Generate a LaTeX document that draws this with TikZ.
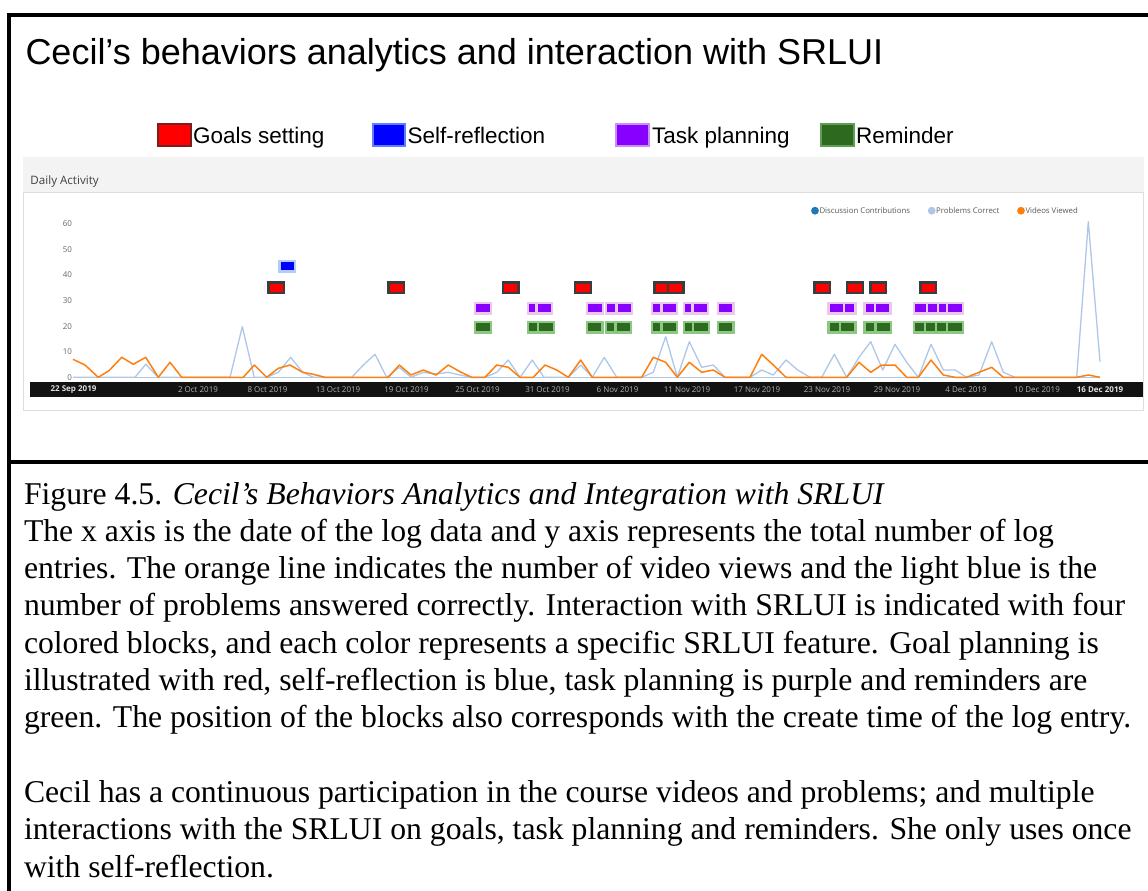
\documentclass[tikz,border=0pt]{standalone}
\usepackage{fontspec}
\setmainfont{Liberation Serif}
\newfontfamily\arial{Liberation Sans}
\newfontfamily\osans{Open Sans}
\definecolor{orangeL}{HTML}{FF7F0E}
\definecolor{lblueL}{HTML}{AEC7E8}
\definecolor{dblueL}{HTML}{1F77B4}
\definecolor{panelgray}{HTML}{F3F3F3}
\definecolor{bordergray}{HTML}{DDDDDD}
\definecolor{redF}{HTML}{FF0000}
\definecolor{redB}{HTML}{3C3C3C}
\definecolor{blueF}{HTML}{0000FF}
\definecolor{blueB}{HTML}{B4CDF5}
\definecolor{purF}{HTML}{8800FF}
\definecolor{purB}{HTML}{E8C8EC}
\definecolor{grnF}{HTML}{2D6A1F}
\definecolor{grnB}{HTML}{8CC883}
\definecolor{legRedB}{HTML}{7A1F1F}
\definecolor{legBlueB}{HTML}{5F7FFF}
\definecolor{legPurB}{HTML}{C890F0}
\definecolor{legGrnB}{HTML}{5F9F55}
\newcommand\srblk[4]{\fill[#3] (#1,#2) rectangle ++(18,13);\fill[#4] ({#1+2.4},{#2+2.4}) rectangle ++(13.2,8.2);}
\begin{document}
\begin{tikzpicture}[x=1pt,y=-1pt,every node/.style={inner sep=0pt,outer sep=0pt},
  datelab/.style={font=\osans\fontsize{8}{9}\selectfont,text=black!30},
  dateend/.style={font=\osans\bfseries\fontsize{8}{9}\selectfont,text=black!12},
  ylab/.style={font=\osans\fontsize{8}{9}\selectfont,text=black!60,anchor=east},
  leglab/.style={font=\osans\fontsize{7.8}{9}\selectfont,text=black!65,anchor=west},
  bigleg/.style={font=\arial\fontsize{22.5}{25}\selectfont,anchor=base west},
  capline/.style={font=\fontsize{31.7}{37.3}\selectfont,anchor=base west}]
\useasboundingbox (0,0) rectangle (1148,891);
\fill[white] (0,0) rectangle (1148,891);
% frame
\draw[line width=3.2,line join=miter] (9,895) -- (9,15) -- (1152,15);
\draw[line width=4] (9,462) -- (1152,462);
% title
\node[font=\arial\fontsize{36}{40}\selectfont,anchor=base west] (title) at (25.5,65) {Cecil’s behaviors analytics and interaction with SRLUI};
% legend
\filldraw[fill=redF,draw=legRedB,line width=2] (158,124) rectangle (191,146);
\node[bigleg] (lg1) at (193,143) {Goals setting};
\filldraw[fill=blueF,draw=legBlueB,line width=2] (373,124) rectangle (405,146);
\node[bigleg] (lg2) at (407.5,143) {Self-reflection};
\filldraw[fill=purF,draw=legPurB,line width=2] (616,124) rectangle (649,146);
\node[bigleg] (lg3) at (652,143) {Task planning};
\filldraw[fill=grnF,draw=legGrnB,line width=2] (821,124) rectangle (854,146);
\node[bigleg] (lg4) at (856,143) {Reminder};
% chart panel
\fill[panelgray] (23,157) rectangle (1144,411);
\filldraw[fill=white,draw=bordergray,line width=0.8] (23.5,192) rectangle (1143.5,410.5);
\node[font=\osans\fontsize{11.6}{13}\selectfont,text=black!75,anchor=west] (daily) at (30.5,181.5) {Daily Activity};
% y labels
\foreach \v/\yy in {0/377.7,10/352,20/326.3,30/300.7,40/275,50/249.3,60/223.3}
  \node[ylab] at (72,\yy) {\v};
% chart legend
\fill[dblueL] (815,210.7) circle (3.9);
\node[leglab] (l1) at (819.5,210.7) {Discussion Contributions};
\fill[lblueL] (931.7,210.7) circle (3.9);
\node[leglab] (l2) at (936.2,210.7) {Problems Correct};
\fill[orangeL] (1021,210.7) circle (3.9);
\node[leglab] (l3) at (1025.5,210.7) {Videos Viewed};
% baseline
\draw[lblueL,line width=1.1] (73,377.3) -- (1100,377.3);
% problems correct
\draw[lblueL,line width=1.3,line join=round] plot coordinates {(73,377.3) (135,377.3) (145.7,364.3) (158.3,377.3) (230,377.3) (242.3,326.7) (254.3,377.3) (266.7,377.3) (278.3,372.3) (290.7,357.3) (302.7,372.3) (313.3,377.3) (351.7,377.3) (363.3,365) (375,354.3) (386.7,377.3) (399.3,367.3) (411,377.3) (423.3,372.3) (436,374) (448.3,372.3) (460,375) (471.7,377.3) (485,377.3) (496.7,372.3) (508.3,360) (520,377.3) (532.3,360) (544,377.3) (568.3,377.3) (580.7,365) (592.3,377.3) (604.3,357.3) (616.7,377.3) (641.7,377.3) (653.3,372.3) (665.7,336.7) (677.3,377.3) (689.3,341.7) (701.7,367.3) (713.3,365) (725,377.3) (750,377.3) (761.7,370) (773.3,375) (786,360) (797.7,370) (810,377.3) (821.7,377.3) (834.3,354.3) (846.7,377.3) (859,357.3) (870.7,341.7) (882.7,370) (895,344.3) (906.7,362.3) (918.3,377.3) (931,344.3) (943.3,370) (955,370) (966.7,377.3) (979,375) (991.7,341.7) (1003.3,372.3) (1015,377.3) (1076.7,377.3) (1088.3,221.7) (1100,361.7)};
% videos viewed
\draw[orangeL,line width=1.5,line join=round] plot coordinates {(73,359.3) (85,365) (98.3,377.3) (109,370.7) (121.7,357.3) (133.3,364.3) (145.7,357.3) (158.3,377.3) (170,362.3) (181.7,377.3) (243.3,377.3) (254.3,365) (266.7,377.3) (278.3,368.3) (290,365) (302.7,372.3) (313.3,374.3) (325,377.3) (388.3,377.3) (399.3,365) (411,375) (423.3,370) (436,375) (448.3,365) (460,371.7) (471.7,377.3) (485,377.3) (496.7,365) (508.3,367.3) (520,377.3) (533.3,377.3) (545,365) (556.7,370) (568.3,377.3) (580.7,360) (592.3,377.3) (641.7,377.3) (653.3,357.3) (665.7,362.3) (677.3,377.3) (689.3,362.3) (701.7,372.3) (713.3,370) (725,377.3) (750,377.3) (761.7,354.3) (773.3,365) (786,377.3) (846.7,377.3) (859,362.3) (870.7,372.3) (881.7,365) (895,365) (906.7,377.3) (918.3,377.3) (931,360) (943.3,375) (955,377.3) (966.7,377.3) (979,372.3) (991.7,367.3) (1003.3,377.3) (1076.7,377.3) (1088.3,375) (1100,377.3)};
% SRLUI blocks
\foreach \x in {267.3,387.3,501.7,574,653.3,666.7,813.3,846,869.3,919.3} {\srblk{\x}{281.3}{redB}{redF}}
\srblk{278.3}{259.8}{blueB}{blueF}
\foreach \x in {474,526.7,535.3,586,605,615.3,651,660.3,682.7,691.3,716.7,838.7,827.3,863.3,873.7,912.7,926,937,946} {\srblk{\x}{301.8}{purB}{purF}}
\foreach \x in {474,526.7,537,585.7,605,614.3,651,660.3,682.7,692,716.7,827.3,838.7,863.3,874.3,912.7,924,935,946} {\srblk{\x}{320.5}{grnB}{grnF}}
% x axis bar
\fill[black!93] (29.5,382) rectangle (1143,397);
\node[dateend] at (73.5,390) {22 Sep 2019};
\foreach \d/\xx in {2 Oct 2019/198,8 Oct 2019/267.5,13 Oct 2019/338,19 Oct 2019/406.5,25 Oct 2019/477.5,31 Oct 2019/547.5,6 Nov 2019/617.5,11 Nov 2019/687,17 Nov 2019/757,23 Nov 2019/827,29 Nov 2019/897,4 Dec 2019/966,10 Dec 2019/1037}
  \node[datelab] at (\xx,390) {\d};
\node[dateend] at (1100,390) {16 Dec 2019};
% caption
\node[capline] (c1) at (24,504) {Figure 4.5. \textit{Cecil’s Behaviors Analytics and Integration with SRLUI}};
\node[capline] (c2) at (24,541.3) {The x axis is the date of the log data and y axis represents the total number of log};
\node[capline] (c3) at (24,578.6) {entries. The orange line indicates the number of video views and the light blue is the};
\node[capline] (c4) at (24,615.9) {number of problems answered correctly. Interaction with SRLUI is indicated with four};
\node[capline] (c5) at (24,653.2) {colored blocks, and each color represents a specific SRLUI feature. Goal planning is};
\node[capline] (c6) at (24,690.5) {illustrated with red, self-reflection is blue, task planning is purple and reminders are};
\node[capline] (c7) at (24,727.8) {green. The position of the blocks also corresponds with the create time of the log entry.};
\node[capline] (c8) at (24,802.4) {Cecil has a continuous participation in the course videos and problems; and multiple};
\node[capline] (c9) at (24,839.7) {interactions with the SRLUI on goals, task planning and reminders. She only uses once};
\node[capline] (c10) at (24,877) {with self-reflection.};
\end{tikzpicture}
\end{document}
